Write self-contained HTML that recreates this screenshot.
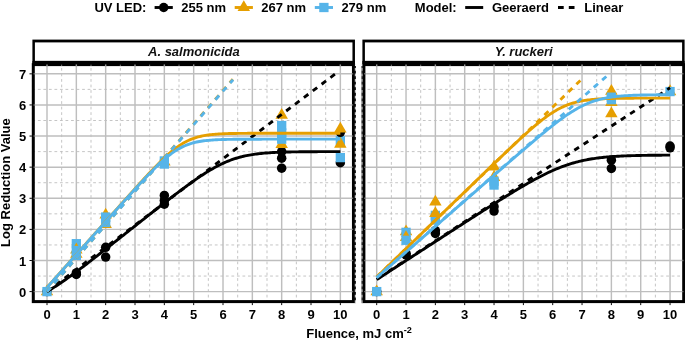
<!DOCTYPE html>
<html><head><meta charset="utf-8"><title>Log Reduction Value vs Fluence</title>
<style>html,body{margin:0;padding:0;background:#fff;}svg{display:block;will-change:transform;opacity:0.999;}</style></head>
<body>
<svg width="685" height="340" viewBox="0 0 685 340" font-family="Liberation Sans, Arial, Helvetica, sans-serif" font-weight="bold">
<rect width="685" height="340" fill="#fff"/>
<rect x="32.40" y="39.6" width="322.55" height="23.80" fill="#000"/>
<rect x="34.90" y="42.4" width="317.55" height="18.55" fill="#fff"/>
<text x="193.9" y="56.4" font-size="13" font-style="italic" text-anchor="middle" fill="#111">A. salmonicida</text>
<clipPath id="c0"><rect x="31.73" y="63.4" width="323.88" height="239.70"/></clipPath>
<g clip-path="url(#c0)">
<line x1="32.33" x2="32.33" y1="303.00" y2="63.4" stroke="#BEBEBE" stroke-width="0.9" stroke-dasharray="2.765 2.765"/>
<line x1="61.67" x2="61.67" y1="303.00" y2="63.4" stroke="#BEBEBE" stroke-width="0.9" stroke-dasharray="2.765 2.765"/>
<line x1="91.00" x2="91.00" y1="303.00" y2="63.4" stroke="#BEBEBE" stroke-width="0.9" stroke-dasharray="2.765 2.765"/>
<line x1="120.34" x2="120.34" y1="303.00" y2="63.4" stroke="#BEBEBE" stroke-width="0.9" stroke-dasharray="2.765 2.765"/>
<line x1="149.67" x2="149.67" y1="303.00" y2="63.4" stroke="#BEBEBE" stroke-width="0.9" stroke-dasharray="2.765 2.765"/>
<line x1="179.01" x2="179.01" y1="303.00" y2="63.4" stroke="#BEBEBE" stroke-width="0.9" stroke-dasharray="2.765 2.765"/>
<line x1="208.34" x2="208.34" y1="303.00" y2="63.4" stroke="#BEBEBE" stroke-width="0.9" stroke-dasharray="2.765 2.765"/>
<line x1="237.68" x2="237.68" y1="303.00" y2="63.4" stroke="#BEBEBE" stroke-width="0.9" stroke-dasharray="2.765 2.765"/>
<line x1="267.01" x2="267.01" y1="303.00" y2="63.4" stroke="#BEBEBE" stroke-width="0.9" stroke-dasharray="2.765 2.765"/>
<line x1="296.35" x2="296.35" y1="303.00" y2="63.4" stroke="#BEBEBE" stroke-width="0.9" stroke-dasharray="2.765 2.765"/>
<line x1="325.68" x2="325.68" y1="303.00" y2="63.4" stroke="#BEBEBE" stroke-width="0.9" stroke-dasharray="2.765 2.765"/>
<line x1="355.02" x2="355.02" y1="303.00" y2="63.4" stroke="#BEBEBE" stroke-width="0.9" stroke-dasharray="2.765 2.765"/>
<line y1="276.05" y2="276.05" x1="32.33" x2="355.62" stroke="#BEBEBE" stroke-width="0.9" stroke-dasharray="2.765 2.765"/>
<line y1="244.94" y2="244.94" x1="32.33" x2="355.62" stroke="#BEBEBE" stroke-width="0.9" stroke-dasharray="2.765 2.765"/>
<line y1="213.83" y2="213.83" x1="32.33" x2="355.62" stroke="#BEBEBE" stroke-width="0.9" stroke-dasharray="2.765 2.765"/>
<line y1="182.72" y2="182.72" x1="32.33" x2="355.62" stroke="#BEBEBE" stroke-width="0.9" stroke-dasharray="2.765 2.765"/>
<line y1="151.61" y2="151.61" x1="32.33" x2="355.62" stroke="#BEBEBE" stroke-width="0.9" stroke-dasharray="2.765 2.765"/>
<line y1="120.50" y2="120.50" x1="32.33" x2="355.62" stroke="#BEBEBE" stroke-width="0.9" stroke-dasharray="2.765 2.765"/>
<line y1="89.39" y2="89.39" x1="32.33" x2="355.62" stroke="#BEBEBE" stroke-width="0.9" stroke-dasharray="2.765 2.765"/>
<line x1="47.00" x2="47.00" y1="63.4" y2="303.1" stroke="#BEBEBE" stroke-width="1.45"/>
<line x1="76.34" x2="76.34" y1="63.4" y2="303.1" stroke="#BEBEBE" stroke-width="1.45"/>
<line x1="105.67" x2="105.67" y1="63.4" y2="303.1" stroke="#BEBEBE" stroke-width="1.45"/>
<line x1="135.00" x2="135.00" y1="63.4" y2="303.1" stroke="#BEBEBE" stroke-width="1.45"/>
<line x1="164.34" x2="164.34" y1="63.4" y2="303.1" stroke="#BEBEBE" stroke-width="1.45"/>
<line x1="193.68" x2="193.68" y1="63.4" y2="303.1" stroke="#BEBEBE" stroke-width="1.45"/>
<line x1="223.01" x2="223.01" y1="63.4" y2="303.1" stroke="#BEBEBE" stroke-width="1.45"/>
<line x1="252.34" x2="252.34" y1="63.4" y2="303.1" stroke="#BEBEBE" stroke-width="1.45"/>
<line x1="281.68" x2="281.68" y1="63.4" y2="303.1" stroke="#BEBEBE" stroke-width="1.45"/>
<line x1="311.01" x2="311.01" y1="63.4" y2="303.1" stroke="#BEBEBE" stroke-width="1.45"/>
<line x1="340.35" x2="340.35" y1="63.4" y2="303.1" stroke="#BEBEBE" stroke-width="1.45"/>
<line y1="291.60" y2="291.60" x1="31.73" x2="355.62" stroke="#BEBEBE" stroke-width="1.45"/>
<line y1="260.49" y2="260.49" x1="31.73" x2="355.62" stroke="#BEBEBE" stroke-width="1.45"/>
<line y1="229.38" y2="229.38" x1="31.73" x2="355.62" stroke="#BEBEBE" stroke-width="1.45"/>
<line y1="198.27" y2="198.27" x1="31.73" x2="355.62" stroke="#BEBEBE" stroke-width="1.45"/>
<line y1="167.16" y2="167.16" x1="31.73" x2="355.62" stroke="#BEBEBE" stroke-width="1.45"/>
<line y1="136.05" y2="136.05" x1="31.73" x2="355.62" stroke="#BEBEBE" stroke-width="1.45"/>
<line y1="104.94" y2="104.94" x1="31.73" x2="355.62" stroke="#BEBEBE" stroke-width="1.45"/>
<line y1="73.83" y2="73.83" x1="31.73" x2="355.62" stroke="#BEBEBE" stroke-width="1.45"/>
<circle cx="47.00" cy="291.60" r="4.75" fill="#000000"/>
<path d="M47.00 284.40L53.24 295.20L40.76 295.20Z" fill="#E69F00"/>
<rect x="42.35" y="286.95" width="9.3" height="9.3" fill="#56B4E9"/>
<circle cx="76.34" cy="274.49" r="4.75" fill="#000000"/>
<circle cx="76.34" cy="272.93" r="4.75" fill="#000000"/>
<path d="M76.34 247.07L82.57 257.87L70.10 257.87Z" fill="#E69F00"/>
<rect x="71.69" y="239.04" width="9.3" height="9.3" fill="#56B4E9"/>
<path d="M76.34 242.59L82.57 253.39L70.10 253.39Z" fill="#E69F00"/>
<rect x="71.69" y="245.88" width="9.3" height="9.3" fill="#56B4E9"/>
<rect x="71.69" y="250.77" width="9.3" height="9.3" fill="#56B4E9"/>
<circle cx="105.67" cy="257.07" r="4.75" fill="#000000"/>
<circle cx="105.67" cy="247.33" r="4.75" fill="#000000"/>
<path d="M105.67 207.65L111.91 218.45L99.43 218.45Z" fill="#E69F00"/>
<path d="M105.67 217.14L111.91 227.94L99.43 227.94Z" fill="#E69F00"/>
<rect x="101.02" y="212.41" width="9.3" height="9.3" fill="#56B4E9"/>
<rect x="101.02" y="217.76" width="9.3" height="9.3" fill="#56B4E9"/>
<circle cx="164.34" cy="204.18" r="4.75" fill="#000000"/>
<circle cx="164.34" cy="200.45" r="4.75" fill="#000000"/>
<circle cx="164.34" cy="195.47" r="4.75" fill="#000000"/>
<path d="M164.34 154.80L170.58 165.60L158.10 165.60Z" fill="#E69F00"/>
<rect x="159.69" y="156.29" width="9.3" height="9.3" fill="#56B4E9"/>
<rect x="159.69" y="159.40" width="9.3" height="9.3" fill="#56B4E9"/>
<circle cx="281.68" cy="168.19" r="4.75" fill="#000000"/>
<circle cx="281.68" cy="158.14" r="4.75" fill="#000000"/>
<circle cx="281.68" cy="151.61" r="4.75" fill="#000000"/>
<path d="M281.68 107.98L287.92 118.78L275.44 118.78Z" fill="#E69F00"/>
<path d="M281.68 137.25L287.92 148.05L275.44 148.05Z" fill="#E69F00"/>
<rect x="277.03" y="134.51" width="9.3" height="9.3" fill="#56B4E9"/>
<rect x="277.03" y="128.29" width="9.3" height="9.3" fill="#56B4E9"/>
<rect x="277.03" y="120.92" width="9.3" height="9.3" fill="#56B4E9"/>
<circle cx="340.35" cy="162.65" r="4.75" fill="#000000"/>
<rect x="335.70" y="152.96" width="9.3" height="9.3" fill="#56B4E9"/>
<rect x="335.70" y="136.07" width="9.3" height="9.3" fill="#56B4E9"/>
<circle cx="340.35" cy="132.32" r="4.75" fill="#000000"/>
<path d="M340.35 121.69L346.59 132.49L334.11 132.49Z" fill="#E69F00"/>
<path d="M340.35 136.85L346.59 147.65L334.11 147.65Z" fill="#E69F00"/>
<path d="M47.00 291.60L48.47 290.75L49.93 289.87L51.40 288.98L52.87 288.07L54.33 287.14L55.80 286.20L57.27 285.24L58.73 284.27L60.20 283.28L61.67 282.28L63.13 281.27L64.60 280.25L66.07 279.22L67.53 278.18L69.00 277.12L70.47 276.06L71.93 274.99L73.40 273.92L74.87 272.84L76.34 271.75L77.80 270.65L79.27 269.55L80.74 268.44L82.20 267.33L83.67 266.22L85.14 265.10L86.60 263.98L88.07 262.85L89.54 261.72L91.00 260.59L92.47 259.45L93.94 258.31L95.40 257.17L96.87 256.03L98.34 254.89L99.80 253.74L101.27 252.60L102.74 251.45L104.20 250.30L105.67 249.15L107.14 247.99L108.60 246.84L110.07 245.69L111.54 244.53L113.00 243.37L114.47 242.22L115.94 241.06L117.40 239.90L118.87 238.74L120.34 237.59L121.80 236.43L123.27 235.27L124.74 234.11L126.20 232.95L127.67 231.79L129.14 230.63L130.60 229.47L132.07 228.31L133.54 227.15L135.00 225.99L136.47 224.83L137.94 223.67L139.41 222.51L140.87 221.36L142.34 220.20L143.81 219.04L145.27 217.88L146.74 216.73L148.21 215.57L149.67 214.42L151.14 213.26L152.61 212.11L154.07 210.96L155.54 209.81L157.01 208.66L158.47 207.51L159.94 206.36L161.41 205.22L162.87 204.07L164.34 202.93L165.81 201.79L167.27 200.66L168.74 199.52L170.21 198.39L171.67 197.26L173.14 196.14L174.61 195.02L176.07 193.90L177.54 192.79L179.01 191.68L180.47 190.57L181.94 189.48L183.41 188.38L184.87 187.30L186.34 186.22L187.81 185.14L189.27 184.08L190.74 183.02L192.21 181.97L193.68 180.94L195.14 179.91L196.61 178.89L198.08 177.88L199.54 176.89L201.01 175.91L202.48 174.94L203.94 173.99L205.41 173.06L206.88 172.14L208.34 171.23L209.81 170.35L211.28 169.48L212.74 168.64L214.21 167.81L215.68 167.01L217.14 166.23L218.61 165.47L220.08 164.73L221.54 164.02L223.01 163.33L224.48 162.66L225.94 162.02L227.41 161.41L228.88 160.82L230.34 160.25L231.81 159.72L233.28 159.20L234.74 158.71L236.21 158.25L237.68 157.81L239.14 157.39L240.61 156.99L242.08 156.62L243.54 156.27L245.01 155.94L246.48 155.63L247.94 155.34L249.41 155.07L250.88 154.81L252.34 154.57L253.81 154.35L255.28 154.14L256.75 153.95L258.21 153.77L259.68 153.60L261.15 153.45L262.61 153.31L264.08 153.17L265.55 153.05L267.01 152.94L268.48 152.83L269.95 152.73L271.41 152.64L272.88 152.56L274.35 152.48L275.81 152.41L277.28 152.35L278.75 152.29L280.21 152.23L281.68 152.18L283.15 152.14L284.61 152.09L286.08 152.05L287.55 152.02L289.01 151.98L290.48 151.95L291.95 151.92L293.41 151.90L294.88 151.87L296.35 151.85L297.81 151.83L299.28 151.81L300.75 151.80L302.21 151.78L303.68 151.77L305.15 151.75L306.61 151.74L308.08 151.73L309.55 151.72L311.01 151.71L312.48 151.70L313.95 151.69L315.42 151.69L316.88 151.68L318.35 151.67L319.82 151.67L321.28 151.66L322.75 151.66L324.22 151.65L325.68 151.65L327.15 151.65L328.62 151.64L330.08 151.64L331.55 151.64L333.02 151.63L334.48 151.63L335.95 151.63L337.42 151.63L338.88 151.63L340.35 151.62" fill="none" stroke="#000000" stroke-width="2.9" stroke-linejoin="round"/>
<line x1="47.00" y1="291.60" x2="335.36" y2="73.86" stroke="#000000" stroke-width="2.9" stroke-dasharray="5.55 5.55" stroke-dashoffset="0.00"/>
<path d="M47.00 287.46L48.47 285.81L49.93 284.16L51.40 282.52L52.87 280.87L54.33 279.22L55.80 277.57L57.27 275.92L58.73 274.27L60.20 272.62L61.67 270.97L63.13 269.33L64.60 267.68L66.07 266.03L67.53 264.38L69.00 262.73L70.47 261.08L71.93 259.43L73.40 257.78L74.87 256.14L76.34 254.49L77.80 252.84L79.27 251.19L80.74 249.54L82.20 247.89L83.67 246.24L85.14 244.60L86.60 242.95L88.07 241.30L89.54 239.65L91.00 238.00L92.47 236.36L93.94 234.71L95.40 233.06L96.87 231.41L98.34 229.76L99.80 228.12L101.27 226.47L102.74 224.82L104.20 223.18L105.67 221.53L107.14 219.88L108.60 218.24L110.07 216.59L111.54 214.95L113.00 213.30L114.47 211.66L115.94 210.01L117.40 208.37L118.87 206.73L120.34 205.09L121.80 203.45L123.27 201.81L124.74 200.17L126.20 198.53L127.67 196.90L129.14 195.27L130.60 193.63L132.07 192.01L133.54 190.38L135.00 188.76L136.47 187.14L137.94 185.52L139.41 183.91L140.87 182.30L142.34 180.70L143.81 179.10L145.27 177.51L146.74 175.93L148.21 174.35L149.67 172.79L151.14 171.23L152.61 169.69L154.07 168.16L155.54 166.64L157.01 165.14L158.47 163.66L159.94 162.19L161.41 160.75L162.87 159.32L164.34 157.93L165.81 156.56L167.27 155.22L168.74 153.91L170.21 152.64L171.67 151.40L173.14 150.20L174.61 149.04L176.07 147.93L177.54 146.86L179.01 145.83L180.47 144.86L181.94 143.93L183.41 143.06L184.87 142.23L186.34 141.46L187.81 140.73L189.27 140.05L190.74 139.43L192.21 138.84L193.68 138.31L195.14 137.81L196.61 137.36L198.08 136.95L199.54 136.57L201.01 136.23L202.48 135.92L203.94 135.64L205.41 135.38L206.88 135.15L208.34 134.95L209.81 134.76L211.28 134.60L212.74 134.45L214.21 134.32L215.68 134.20L217.14 134.09L218.61 134.00L220.08 133.92L221.54 133.84L223.01 133.77L224.48 133.71L225.94 133.66L227.41 133.62L228.88 133.57L230.34 133.54L231.81 133.50L233.28 133.48L234.74 133.45L236.21 133.43L237.68 133.41L239.14 133.39L240.61 133.37L242.08 133.36L243.54 133.35L245.01 133.34L246.48 133.33L247.94 133.32L249.41 133.31L250.88 133.30L252.34 133.30L253.81 133.29L255.28 133.29L256.75 133.28L258.21 133.28L259.68 133.28L261.15 133.27L262.61 133.27L264.08 133.27L265.55 133.27L267.01 133.26L268.48 133.26L269.95 133.26L271.41 133.26L272.88 133.26L274.35 133.26L275.81 133.26L277.28 133.26L278.75 133.26L280.21 133.25L281.68 133.25L283.15 133.25L284.61 133.25L286.08 133.25L287.55 133.25L289.01 133.25L290.48 133.25L291.95 133.25L293.41 133.25L294.88 133.25L296.35 133.25L297.81 133.25L299.28 133.25L300.75 133.25L302.21 133.25L303.68 133.25L305.15 133.25L306.61 133.25L308.08 133.25L309.55 133.25L311.01 133.25L312.48 133.25L313.95 133.25L315.42 133.25L316.88 133.25L318.35 133.25L319.82 133.25L321.28 133.25L322.75 133.25L324.22 133.25L325.68 133.25L327.15 133.25L328.62 133.25L330.08 133.25L331.55 133.25L333.02 133.25L334.48 133.25L335.95 133.25L337.42 133.25L338.88 133.25L340.35 133.25" fill="none" stroke="#E69F00" stroke-width="2.9" stroke-linejoin="round"/>
<line x1="47.00" y1="291.60" x2="232.90" y2="79.28" stroke="#E69F00" stroke-width="2.9" stroke-dasharray="5.55 5.55" stroke-dashoffset="0.00"/>
<path d="M47.00 287.56L48.47 285.91L49.93 284.26L51.40 282.62L52.87 280.97L54.33 279.33L55.80 277.68L57.27 276.04L58.73 274.39L60.20 272.74L61.67 271.10L63.13 269.45L64.60 267.81L66.07 266.16L67.53 264.52L69.00 262.87L70.47 261.23L71.93 259.58L73.40 257.93L74.87 256.29L76.34 254.64L77.80 253.00L79.27 251.35L80.74 249.71L82.20 248.06L83.67 246.42L85.14 244.77L86.60 243.13L88.07 241.48L89.54 239.84L91.00 238.19L92.47 236.55L93.94 234.90L95.40 233.26L96.87 231.62L98.34 229.97L99.80 228.33L101.27 226.68L102.74 225.04L104.20 223.40L105.67 221.76L107.14 220.11L108.60 218.47L110.07 216.83L111.54 215.19L113.00 213.55L114.47 211.91L115.94 210.28L117.40 208.64L118.87 207.00L120.34 205.37L121.80 203.74L123.27 202.11L124.74 200.48L126.20 198.85L127.67 197.23L129.14 195.60L130.60 193.99L132.07 192.37L133.54 190.76L135.00 189.15L136.47 187.55L137.94 185.95L139.41 184.36L140.87 182.78L142.34 181.20L143.81 179.63L145.27 178.07L146.74 176.52L148.21 174.99L149.67 173.47L151.14 171.96L152.61 170.47L154.07 168.99L155.54 167.54L157.01 166.10L158.47 164.69L159.94 163.31L161.41 161.95L162.87 160.63L164.34 159.34L165.81 158.08L167.27 156.86L168.74 155.68L170.21 154.54L171.67 153.44L173.14 152.39L174.61 151.38L176.07 150.43L177.54 149.52L179.01 148.67L180.47 147.86L181.94 147.10L183.41 146.40L184.87 145.74L186.34 145.13L187.81 144.56L189.27 144.04L190.74 143.56L192.21 143.13L193.68 142.73L195.14 142.36L196.61 142.03L198.08 141.73L199.54 141.46L201.01 141.22L202.48 141.00L203.94 140.80L205.41 140.62L206.88 140.46L208.34 140.32L209.81 140.19L211.28 140.08L212.74 139.97L214.21 139.88L215.68 139.80L217.14 139.73L218.61 139.67L220.08 139.61L221.54 139.56L223.01 139.51L224.48 139.47L225.94 139.44L227.41 139.41L228.88 139.38L230.34 139.35L231.81 139.33L233.28 139.31L234.74 139.30L236.21 139.28L237.68 139.27L239.14 139.25L240.61 139.24L242.08 139.23L243.54 139.23L245.01 139.22L246.48 139.21L247.94 139.21L249.41 139.20L250.88 139.20L252.34 139.19L253.81 139.19L255.28 139.19L256.75 139.18L258.21 139.18L259.68 139.18L261.15 139.18L262.61 139.17L264.08 139.17L265.55 139.17L267.01 139.17L268.48 139.17L269.95 139.17L271.41 139.17L272.88 139.17L274.35 139.17L275.81 139.17L277.28 139.16L278.75 139.16L280.21 139.16L281.68 139.16L283.15 139.16L284.61 139.16L286.08 139.16L287.55 139.16L289.01 139.16L290.48 139.16L291.95 139.16L293.41 139.16L294.88 139.16L296.35 139.16L297.81 139.16L299.28 139.16L300.75 139.16L302.21 139.16L303.68 139.16L305.15 139.16L306.61 139.16L308.08 139.16L309.55 139.16L311.01 139.16L312.48 139.16L313.95 139.16L315.42 139.16L316.88 139.16L318.35 139.16L319.82 139.16L321.28 139.16L322.75 139.16L324.22 139.16L325.68 139.16L327.15 139.16L328.62 139.16L330.08 139.16L331.55 139.16L333.02 139.16L334.48 139.16L335.95 139.16L337.42 139.16L338.88 139.16L340.35 139.16" fill="none" stroke="#56B4E9" stroke-width="2.9" stroke-linejoin="round"/>
<line x1="47.00" y1="291.60" x2="233.07" y2="79.67" stroke="#56B4E9" stroke-width="2.9" stroke-dasharray="5.55 5.55" stroke-dashoffset="0.00"/>
</g>
<rect x="33.30" y="64.60" width="320.15" height="237.00" fill="none" stroke="#000" stroke-width="3.0"/>
<rect x="32.40" y="60.9" width="322.55" height="3" fill="#000"/>
<line x1="47.00" x2="47.00" y1="64.4" y2="66.2" stroke="#BEBEBE" stroke-width="1.45" opacity="0.8"/>
<line x1="76.34" x2="76.34" y1="64.4" y2="66.2" stroke="#BEBEBE" stroke-width="1.45" opacity="0.8"/>
<line x1="105.67" x2="105.67" y1="64.4" y2="66.2" stroke="#BEBEBE" stroke-width="1.45" opacity="0.8"/>
<line x1="135.00" x2="135.00" y1="64.4" y2="66.2" stroke="#BEBEBE" stroke-width="1.45" opacity="0.8"/>
<line x1="164.34" x2="164.34" y1="64.4" y2="66.2" stroke="#BEBEBE" stroke-width="1.45" opacity="0.8"/>
<line x1="193.68" x2="193.68" y1="64.4" y2="66.2" stroke="#BEBEBE" stroke-width="1.45" opacity="0.8"/>
<line x1="223.01" x2="223.01" y1="64.4" y2="66.2" stroke="#BEBEBE" stroke-width="1.45" opacity="0.8"/>
<line x1="252.34" x2="252.34" y1="64.4" y2="66.2" stroke="#BEBEBE" stroke-width="1.45" opacity="0.8"/>
<line x1="281.68" x2="281.68" y1="64.4" y2="66.2" stroke="#BEBEBE" stroke-width="1.45" opacity="0.8"/>
<line x1="311.01" x2="311.01" y1="64.4" y2="66.2" stroke="#BEBEBE" stroke-width="1.45" opacity="0.8"/>
<line x1="340.35" x2="340.35" y1="64.4" y2="66.2" stroke="#BEBEBE" stroke-width="1.45" opacity="0.8"/>
<line x1="61.67" x2="61.67" y1="64.6" y2="66.2" stroke="#BEBEBE" stroke-width="0.9" opacity="0.7"/>
<line x1="91.00" x2="91.00" y1="64.6" y2="66.2" stroke="#BEBEBE" stroke-width="0.9" opacity="0.7"/>
<line x1="120.34" x2="120.34" y1="64.6" y2="66.2" stroke="#BEBEBE" stroke-width="0.9" opacity="0.7"/>
<line x1="149.67" x2="149.67" y1="64.6" y2="66.2" stroke="#BEBEBE" stroke-width="0.9" opacity="0.7"/>
<line x1="179.01" x2="179.01" y1="64.6" y2="66.2" stroke="#BEBEBE" stroke-width="0.9" opacity="0.7"/>
<line x1="208.34" x2="208.34" y1="64.6" y2="66.2" stroke="#BEBEBE" stroke-width="0.9" opacity="0.7"/>
<line x1="237.68" x2="237.68" y1="64.6" y2="66.2" stroke="#BEBEBE" stroke-width="0.9" opacity="0.7"/>
<line x1="267.01" x2="267.01" y1="64.6" y2="66.2" stroke="#BEBEBE" stroke-width="0.9" opacity="0.7"/>
<line x1="296.35" x2="296.35" y1="64.6" y2="66.2" stroke="#BEBEBE" stroke-width="0.9" opacity="0.7"/>
<line x1="325.68" x2="325.68" y1="64.6" y2="66.2" stroke="#BEBEBE" stroke-width="0.9" opacity="0.7"/>
<line y1="291.60" y2="291.60" x1="33.50" x2="34.90" stroke="#BEBEBE" stroke-width="1.45" opacity="0.55"/>
<line y1="291.60" y2="291.60" x1="351.85" x2="353.25" stroke="#BEBEBE" stroke-width="1.45" opacity="0.55"/>
<line y1="260.49" y2="260.49" x1="33.50" x2="34.90" stroke="#BEBEBE" stroke-width="1.45" opacity="0.55"/>
<line y1="260.49" y2="260.49" x1="351.85" x2="353.25" stroke="#BEBEBE" stroke-width="1.45" opacity="0.55"/>
<line y1="229.38" y2="229.38" x1="33.50" x2="34.90" stroke="#BEBEBE" stroke-width="1.45" opacity="0.55"/>
<line y1="229.38" y2="229.38" x1="351.85" x2="353.25" stroke="#BEBEBE" stroke-width="1.45" opacity="0.55"/>
<line y1="198.27" y2="198.27" x1="33.50" x2="34.90" stroke="#BEBEBE" stroke-width="1.45" opacity="0.55"/>
<line y1="198.27" y2="198.27" x1="351.85" x2="353.25" stroke="#BEBEBE" stroke-width="1.45" opacity="0.55"/>
<line y1="167.16" y2="167.16" x1="33.50" x2="34.90" stroke="#BEBEBE" stroke-width="1.45" opacity="0.55"/>
<line y1="167.16" y2="167.16" x1="351.85" x2="353.25" stroke="#BEBEBE" stroke-width="1.45" opacity="0.55"/>
<line y1="136.05" y2="136.05" x1="33.50" x2="34.90" stroke="#BEBEBE" stroke-width="1.45" opacity="0.55"/>
<line y1="136.05" y2="136.05" x1="351.85" x2="353.25" stroke="#BEBEBE" stroke-width="1.45" opacity="0.55"/>
<line y1="104.94" y2="104.94" x1="33.50" x2="34.90" stroke="#BEBEBE" stroke-width="1.45" opacity="0.55"/>
<line y1="104.94" y2="104.94" x1="351.85" x2="353.25" stroke="#BEBEBE" stroke-width="1.45" opacity="0.55"/>
<line y1="73.83" y2="73.83" x1="33.50" x2="34.90" stroke="#BEBEBE" stroke-width="1.45" opacity="0.55"/>
<line y1="73.83" y2="73.83" x1="351.85" x2="353.25" stroke="#BEBEBE" stroke-width="1.45" opacity="0.55"/>
<rect x="354.75" y="66" width="1.1" height="237.10" fill="#000"/>
<line x1="355.37" x2="355.37" y1="303.00" y2="66" stroke="#d9d9d9" stroke-width="1.1" stroke-dasharray="2.765 2.765"/>
<line x1="47.00" x2="47.00" y1="303.10" y2="305.10" stroke="#000" stroke-width="1"/>
<text x="47.00" y="318.7" font-size="13" text-anchor="middle" fill="#000">0</text>
<line x1="76.34" x2="76.34" y1="303.10" y2="305.10" stroke="#000" stroke-width="1"/>
<text x="76.34" y="318.7" font-size="13" text-anchor="middle" fill="#000">1</text>
<line x1="105.67" x2="105.67" y1="303.10" y2="305.10" stroke="#000" stroke-width="1"/>
<text x="105.67" y="318.7" font-size="13" text-anchor="middle" fill="#000">2</text>
<line x1="135.00" x2="135.00" y1="303.10" y2="305.10" stroke="#000" stroke-width="1"/>
<text x="135.00" y="318.7" font-size="13" text-anchor="middle" fill="#000">3</text>
<line x1="164.34" x2="164.34" y1="303.10" y2="305.10" stroke="#000" stroke-width="1"/>
<text x="164.34" y="318.7" font-size="13" text-anchor="middle" fill="#000">4</text>
<line x1="193.68" x2="193.68" y1="303.10" y2="305.10" stroke="#000" stroke-width="1"/>
<text x="193.68" y="318.7" font-size="13" text-anchor="middle" fill="#000">5</text>
<line x1="223.01" x2="223.01" y1="303.10" y2="305.10" stroke="#000" stroke-width="1"/>
<text x="223.01" y="318.7" font-size="13" text-anchor="middle" fill="#000">6</text>
<line x1="252.34" x2="252.34" y1="303.10" y2="305.10" stroke="#000" stroke-width="1"/>
<text x="252.34" y="318.7" font-size="13" text-anchor="middle" fill="#000">7</text>
<line x1="281.68" x2="281.68" y1="303.10" y2="305.10" stroke="#000" stroke-width="1"/>
<text x="281.68" y="318.7" font-size="13" text-anchor="middle" fill="#000">8</text>
<line x1="311.01" x2="311.01" y1="303.10" y2="305.10" stroke="#000" stroke-width="1"/>
<text x="311.01" y="318.7" font-size="13" text-anchor="middle" fill="#000">9</text>
<line x1="340.35" x2="340.35" y1="303.10" y2="305.10" stroke="#000" stroke-width="1"/>
<text x="340.35" y="318.7" font-size="13" text-anchor="middle" fill="#000">10</text>
<rect x="362.40" y="39.6" width="322.20" height="23.80" fill="#000"/>
<rect x="364.90" y="42.4" width="317.20" height="18.55" fill="#fff"/>
<text x="523.7" y="56.4" font-size="13" font-style="italic" text-anchor="middle" fill="#111">Y. ruckeri</text>
<clipPath id="c1"><rect x="361.43" y="63.4" width="323.89" height="239.70"/></clipPath>
<g clip-path="url(#c1)">
<line x1="362.03" x2="362.03" y1="303.00" y2="63.4" stroke="#BEBEBE" stroke-width="0.9" stroke-dasharray="2.765 2.765"/>
<line x1="391.37" x2="391.37" y1="303.00" y2="63.4" stroke="#BEBEBE" stroke-width="0.9" stroke-dasharray="2.765 2.765"/>
<line x1="420.70" x2="420.70" y1="303.00" y2="63.4" stroke="#BEBEBE" stroke-width="0.9" stroke-dasharray="2.765 2.765"/>
<line x1="450.04" x2="450.04" y1="303.00" y2="63.4" stroke="#BEBEBE" stroke-width="0.9" stroke-dasharray="2.765 2.765"/>
<line x1="479.37" x2="479.37" y1="303.00" y2="63.4" stroke="#BEBEBE" stroke-width="0.9" stroke-dasharray="2.765 2.765"/>
<line x1="508.71" x2="508.71" y1="303.00" y2="63.4" stroke="#BEBEBE" stroke-width="0.9" stroke-dasharray="2.765 2.765"/>
<line x1="538.04" x2="538.04" y1="303.00" y2="63.4" stroke="#BEBEBE" stroke-width="0.9" stroke-dasharray="2.765 2.765"/>
<line x1="567.38" x2="567.38" y1="303.00" y2="63.4" stroke="#BEBEBE" stroke-width="0.9" stroke-dasharray="2.765 2.765"/>
<line x1="596.71" x2="596.71" y1="303.00" y2="63.4" stroke="#BEBEBE" stroke-width="0.9" stroke-dasharray="2.765 2.765"/>
<line x1="626.05" x2="626.05" y1="303.00" y2="63.4" stroke="#BEBEBE" stroke-width="0.9" stroke-dasharray="2.765 2.765"/>
<line x1="655.38" x2="655.38" y1="303.00" y2="63.4" stroke="#BEBEBE" stroke-width="0.9" stroke-dasharray="2.765 2.765"/>
<line x1="684.72" x2="684.72" y1="303.00" y2="63.4" stroke="#BEBEBE" stroke-width="0.9" stroke-dasharray="2.765 2.765"/>
<line y1="276.05" y2="276.05" x1="362.03" x2="685.32" stroke="#BEBEBE" stroke-width="0.9" stroke-dasharray="2.765 2.765"/>
<line y1="244.94" y2="244.94" x1="362.03" x2="685.32" stroke="#BEBEBE" stroke-width="0.9" stroke-dasharray="2.765 2.765"/>
<line y1="213.83" y2="213.83" x1="362.03" x2="685.32" stroke="#BEBEBE" stroke-width="0.9" stroke-dasharray="2.765 2.765"/>
<line y1="182.72" y2="182.72" x1="362.03" x2="685.32" stroke="#BEBEBE" stroke-width="0.9" stroke-dasharray="2.765 2.765"/>
<line y1="151.61" y2="151.61" x1="362.03" x2="685.32" stroke="#BEBEBE" stroke-width="0.9" stroke-dasharray="2.765 2.765"/>
<line y1="120.50" y2="120.50" x1="362.03" x2="685.32" stroke="#BEBEBE" stroke-width="0.9" stroke-dasharray="2.765 2.765"/>
<line y1="89.39" y2="89.39" x1="362.03" x2="685.32" stroke="#BEBEBE" stroke-width="0.9" stroke-dasharray="2.765 2.765"/>
<line x1="376.70" x2="376.70" y1="63.4" y2="303.1" stroke="#BEBEBE" stroke-width="1.45"/>
<line x1="406.03" x2="406.03" y1="63.4" y2="303.1" stroke="#BEBEBE" stroke-width="1.45"/>
<line x1="435.37" x2="435.37" y1="63.4" y2="303.1" stroke="#BEBEBE" stroke-width="1.45"/>
<line x1="464.70" x2="464.70" y1="63.4" y2="303.1" stroke="#BEBEBE" stroke-width="1.45"/>
<line x1="494.04" x2="494.04" y1="63.4" y2="303.1" stroke="#BEBEBE" stroke-width="1.45"/>
<line x1="523.38" x2="523.38" y1="63.4" y2="303.1" stroke="#BEBEBE" stroke-width="1.45"/>
<line x1="552.71" x2="552.71" y1="63.4" y2="303.1" stroke="#BEBEBE" stroke-width="1.45"/>
<line x1="582.04" x2="582.04" y1="63.4" y2="303.1" stroke="#BEBEBE" stroke-width="1.45"/>
<line x1="611.38" x2="611.38" y1="63.4" y2="303.1" stroke="#BEBEBE" stroke-width="1.45"/>
<line x1="640.71" x2="640.71" y1="63.4" y2="303.1" stroke="#BEBEBE" stroke-width="1.45"/>
<line x1="670.05" x2="670.05" y1="63.4" y2="303.1" stroke="#BEBEBE" stroke-width="1.45"/>
<line y1="291.60" y2="291.60" x1="361.43" x2="685.32" stroke="#BEBEBE" stroke-width="1.45"/>
<line y1="260.49" y2="260.49" x1="361.43" x2="685.32" stroke="#BEBEBE" stroke-width="1.45"/>
<line y1="229.38" y2="229.38" x1="361.43" x2="685.32" stroke="#BEBEBE" stroke-width="1.45"/>
<line y1="198.27" y2="198.27" x1="361.43" x2="685.32" stroke="#BEBEBE" stroke-width="1.45"/>
<line y1="167.16" y2="167.16" x1="361.43" x2="685.32" stroke="#BEBEBE" stroke-width="1.45"/>
<line y1="136.05" y2="136.05" x1="361.43" x2="685.32" stroke="#BEBEBE" stroke-width="1.45"/>
<line y1="104.94" y2="104.94" x1="361.43" x2="685.32" stroke="#BEBEBE" stroke-width="1.45"/>
<line y1="73.83" y2="73.83" x1="361.43" x2="685.32" stroke="#BEBEBE" stroke-width="1.45"/>
<circle cx="376.70" cy="291.60" r="4.75" fill="#000000"/>
<path d="M376.70 284.40L382.94 295.20L370.46 295.20Z" fill="#E69F00"/>
<rect x="372.05" y="286.95" width="9.3" height="9.3" fill="#56B4E9"/>
<circle cx="406.03" cy="254.89" r="4.75" fill="#000000"/>
<circle cx="406.03" cy="253.33" r="4.75" fill="#000000"/>
<path d="M406.03 224.48L412.27 235.28L399.80 235.28Z" fill="#E69F00"/>
<rect x="401.38" y="227.69" width="9.3" height="9.3" fill="#56B4E9"/>
<path d="M406.03 230.27L412.27 241.07L399.80 241.07Z" fill="#E69F00"/>
<rect x="401.38" y="235.62" width="9.3" height="9.3" fill="#56B4E9"/>
<circle cx="435.37" cy="233.42" r="4.75" fill="#000000"/>
<circle cx="435.37" cy="230.62" r="4.75" fill="#000000"/>
<rect x="430.72" y="210.73" width="9.3" height="9.3" fill="#56B4E9"/>
<rect x="430.72" y="215.40" width="9.3" height="9.3" fill="#56B4E9"/>
<path d="M435.37 206.25L441.61 217.05L429.13 217.05Z" fill="#E69F00"/>
<path d="M435.37 194.80L441.61 205.60L429.13 205.60Z" fill="#E69F00"/>
<circle cx="494.04" cy="211.03" r="4.75" fill="#000000"/>
<circle cx="494.04" cy="206.67" r="4.75" fill="#000000"/>
<path d="M494.04 159.71L500.28 170.51L487.80 170.51Z" fill="#E69F00"/>
<path d="M494.04 170.10L500.28 180.90L487.80 180.90Z" fill="#E69F00"/>
<rect x="489.39" y="176.51" width="9.3" height="9.3" fill="#56B4E9"/>
<rect x="489.39" y="180.40" width="9.3" height="9.3" fill="#56B4E9"/>
<circle cx="611.38" cy="168.40" r="4.75" fill="#000000"/>
<circle cx="611.38" cy="160.16" r="4.75" fill="#000000"/>
<path d="M611.38 106.45L617.62 117.25L605.14 117.25Z" fill="#E69F00"/>
<path d="M611.38 95.25L617.62 106.05L605.14 106.05Z" fill="#E69F00"/>
<path d="M611.38 84.05L617.62 94.85L605.14 94.85Z" fill="#E69F00"/>
<rect x="606.73" y="95.00" width="9.3" height="9.3" fill="#56B4E9"/>
<rect x="606.73" y="92.51" width="9.3" height="9.3" fill="#56B4E9"/>
<circle cx="670.05" cy="147.87" r="4.75" fill="#000000"/>
<circle cx="670.05" cy="146.01" r="4.75" fill="#000000"/>
<path d="M670.05 84.36L676.29 95.16L663.81 95.16Z" fill="#E69F00"/>
<rect x="665.40" y="86.91" width="9.3" height="9.3" fill="#56B4E9"/>
<path d="M376.70 279.62L378.17 278.67L379.63 277.72L381.10 276.77L382.57 275.82L384.03 274.86L385.50 273.91L386.97 272.96L388.43 272.01L389.90 271.06L391.37 270.10L392.83 269.15L394.30 268.20L395.77 267.25L397.23 266.30L398.70 265.35L400.17 264.39L401.63 263.44L403.10 262.49L404.57 261.54L406.03 260.59L407.50 259.64L408.97 258.68L410.44 257.73L411.90 256.78L413.37 255.83L414.84 254.88L416.30 253.93L417.77 252.98L419.24 252.02L420.70 251.07L422.17 250.12L423.64 249.17L425.10 248.22L426.57 247.27L428.04 246.32L429.50 245.37L430.97 244.42L432.44 243.47L433.90 242.52L435.37 241.57L436.84 240.61L438.30 239.66L439.77 238.71L441.24 237.76L442.70 236.81L444.17 235.86L445.64 234.92L447.10 233.97L448.57 233.02L450.04 232.07L451.50 231.12L452.97 230.17L454.44 229.22L455.90 228.28L457.37 227.33L458.84 226.38L460.30 225.43L461.77 224.49L463.24 223.54L464.70 222.59L466.17 221.65L467.64 220.70L469.11 219.76L470.57 218.82L472.04 217.87L473.51 216.93L474.97 215.99L476.44 215.05L477.91 214.11L479.37 213.17L480.84 212.23L482.31 211.29L483.77 210.35L485.24 209.42L486.71 208.48L488.17 207.55L489.64 206.62L491.11 205.69L492.57 204.76L494.04 203.83L495.51 202.91L496.97 201.98L498.44 201.06L499.91 200.14L501.37 199.23L502.84 198.31L504.31 197.40L505.77 196.49L507.24 195.59L508.71 194.68L510.17 193.78L511.64 192.89L513.11 191.99L514.57 191.11L516.04 190.22L517.51 189.34L518.97 188.47L520.44 187.60L521.91 186.74L523.38 185.88L524.84 185.03L526.31 184.18L527.78 183.34L529.24 182.51L530.71 181.69L532.18 180.87L533.64 180.06L535.11 179.27L536.58 178.48L538.04 177.70L539.51 176.93L540.98 176.17L542.44 175.42L543.91 174.69L545.38 173.96L546.84 173.25L548.31 172.55L549.78 171.87L551.24 171.20L552.71 170.54L554.18 169.90L555.64 169.27L557.11 168.66L558.58 168.06L560.04 167.48L561.51 166.91L562.98 166.37L564.44 165.83L565.91 165.32L567.38 164.82L568.84 164.34L570.31 163.87L571.78 163.42L573.24 162.99L574.71 162.57L576.18 162.17L577.64 161.79L579.11 161.42L580.58 161.07L582.04 160.74L583.51 160.42L584.98 160.11L586.45 159.82L587.91 159.54L589.38 159.28L590.85 159.03L592.31 158.79L593.78 158.56L595.25 158.35L596.71 158.15L598.18 157.96L599.65 157.78L601.11 157.61L602.58 157.45L604.05 157.30L605.51 157.15L606.98 157.02L608.45 156.89L609.91 156.77L611.38 156.66L612.85 156.56L614.31 156.46L615.78 156.36L617.25 156.28L618.71 156.20L620.18 156.12L621.65 156.05L623.11 155.98L624.58 155.92L626.05 155.86L627.51 155.80L628.98 155.75L630.45 155.70L631.91 155.66L633.38 155.62L634.85 155.58L636.31 155.54L637.78 155.51L639.25 155.47L640.71 155.44L642.18 155.42L643.65 155.39L645.12 155.37L646.58 155.34L648.05 155.32L649.52 155.30L650.98 155.28L652.45 155.27L653.92 155.25L655.38 155.24L656.85 155.22L658.32 155.21L659.78 155.20L661.25 155.18L662.72 155.17L664.18 155.16L665.65 155.15L667.12 155.15L668.58 155.14L670.05 155.13" fill="none" stroke="#000000" stroke-width="2.9" stroke-linejoin="round"/>
<line x1="376.70" y1="279.16" x2="670.05" y2="87.83" stroke="#000000" stroke-width="2.9" stroke-dasharray="5.55 5.55" stroke-dashoffset="8.25"/>
<path d="M376.70 276.98L378.17 275.56L379.63 274.14L381.10 272.72L382.57 271.30L384.03 269.89L385.50 268.47L386.97 267.05L388.43 265.63L389.90 264.21L391.37 262.79L392.83 261.37L394.30 259.95L395.77 258.54L397.23 257.12L398.70 255.70L400.17 254.28L401.63 252.86L403.10 251.44L404.57 250.02L406.03 248.61L407.50 247.19L408.97 245.77L410.44 244.35L411.90 242.93L413.37 241.51L414.84 240.09L416.30 238.68L417.77 237.26L419.24 235.84L420.70 234.42L422.17 233.00L423.64 231.58L425.10 230.16L426.57 228.75L428.04 227.33L429.50 225.91L430.97 224.49L432.44 223.07L433.90 221.65L435.37 220.24L436.84 218.82L438.30 217.40L439.77 215.98L441.24 214.56L442.70 213.14L444.17 211.72L445.64 210.31L447.10 208.89L448.57 207.47L450.04 206.05L451.50 204.63L452.97 203.22L454.44 201.80L455.90 200.38L457.37 198.96L458.84 197.54L460.30 196.13L461.77 194.71L463.24 193.29L464.70 191.87L466.17 190.46L467.64 189.04L469.11 187.62L470.57 186.21L472.04 184.79L473.51 183.37L474.97 181.96L476.44 180.54L477.91 179.13L479.37 177.71L480.84 176.30L482.31 174.88L483.77 173.47L485.24 172.06L486.71 170.65L488.17 169.23L489.64 167.82L491.11 166.41L492.57 165.00L494.04 163.60L495.51 162.19L496.97 160.78L498.44 159.38L499.91 157.98L501.37 156.58L502.84 155.18L504.31 153.78L505.77 152.39L507.24 150.99L508.71 149.60L510.17 148.22L511.64 146.84L513.11 145.46L514.57 144.09L516.04 142.72L517.51 141.35L518.97 139.99L520.44 138.64L521.91 137.30L523.38 135.96L524.84 134.63L526.31 133.31L527.78 132.01L529.24 130.71L530.71 129.42L532.18 128.15L533.64 126.89L535.11 125.65L536.58 124.43L538.04 123.22L539.51 122.03L540.98 120.86L542.44 119.72L543.91 118.60L545.38 117.51L546.84 116.44L548.31 115.40L549.78 114.39L551.24 113.41L552.71 112.47L554.18 111.55L555.64 110.68L557.11 109.83L558.58 109.03L560.04 108.26L561.51 107.53L562.98 106.84L564.44 106.18L565.91 105.56L567.38 104.97L568.84 104.43L570.31 103.91L571.78 103.43L573.24 102.99L574.71 102.57L576.18 102.19L577.64 101.83L579.11 101.50L580.58 101.20L582.04 100.92L583.51 100.66L584.98 100.43L586.45 100.21L587.91 100.01L589.38 99.84L590.85 99.67L592.31 99.52L593.78 99.39L595.25 99.26L596.71 99.15L598.18 99.05L599.65 98.96L601.11 98.87L602.58 98.80L604.05 98.73L605.51 98.67L606.98 98.61L608.45 98.56L609.91 98.52L611.38 98.47L612.85 98.44L614.31 98.40L615.78 98.37L617.25 98.35L618.71 98.32L620.18 98.30L621.65 98.28L623.11 98.26L624.58 98.24L626.05 98.23L627.51 98.22L628.98 98.20L630.45 98.19L631.91 98.18L633.38 98.18L634.85 98.17L636.31 98.16L637.78 98.15L639.25 98.15L640.71 98.14L642.18 98.14L643.65 98.13L645.12 98.13L646.58 98.13L648.05 98.12L649.52 98.12L650.98 98.12L652.45 98.12L653.92 98.11L655.38 98.11L656.85 98.11L658.32 98.11L659.78 98.11L661.25 98.11L662.72 98.11L664.18 98.10L665.65 98.10L667.12 98.10L668.58 98.10L670.05 98.10" fill="none" stroke="#E69F00" stroke-width="2.9" stroke-linejoin="round"/>
<line x1="376.70" y1="276.98" x2="580.87" y2="79.94" stroke="#E69F00" stroke-width="2.9" stroke-dasharray="5.55 5.55" stroke-dashoffset="0.00"/>
<path d="M376.70 277.60L378.17 276.32L379.63 275.04L381.10 273.76L382.57 272.48L384.03 271.20L385.50 269.92L386.97 268.64L388.43 267.36L389.90 266.08L391.37 264.80L392.83 263.52L394.30 262.24L395.77 260.96L397.23 259.68L398.70 258.40L400.17 257.12L401.63 255.84L403.10 254.56L404.57 253.28L406.03 252.00L407.50 250.72L408.97 249.44L410.44 248.16L411.90 246.88L413.37 245.60L414.84 244.32L416.30 243.04L417.77 241.76L419.24 240.48L420.70 239.20L422.17 237.92L423.64 236.64L425.10 235.36L426.57 234.07L428.04 232.79L429.50 231.51L430.97 230.23L432.44 228.95L433.90 227.67L435.37 226.39L436.84 225.11L438.30 223.83L439.77 222.55L441.24 221.27L442.70 219.99L444.17 218.71L445.64 217.43L447.10 216.15L448.57 214.87L450.04 213.59L451.50 212.31L452.97 211.03L454.44 209.75L455.90 208.47L457.37 207.19L458.84 205.91L460.30 204.63L461.77 203.35L463.24 202.07L464.70 200.80L466.17 199.52L467.64 198.24L469.11 196.96L470.57 195.68L472.04 194.40L473.51 193.12L474.97 191.84L476.44 190.56L477.91 189.28L479.37 188.00L480.84 186.72L482.31 185.44L483.77 184.17L485.24 182.89L486.71 181.61L488.17 180.33L489.64 179.05L491.11 177.78L492.57 176.50L494.04 175.22L495.51 173.94L496.97 172.67L498.44 171.39L499.91 170.12L501.37 168.84L502.84 167.57L504.31 166.29L505.77 165.02L507.24 163.75L508.71 162.47L510.17 161.20L511.64 159.93L513.11 158.66L514.57 157.39L516.04 156.13L517.51 154.86L518.97 153.60L520.44 152.33L521.91 151.07L523.38 149.81L524.84 148.56L526.31 147.30L527.78 146.05L529.24 144.80L530.71 143.55L532.18 142.31L533.64 141.06L535.11 139.83L536.58 138.60L538.04 137.37L539.51 136.14L540.98 134.93L542.44 133.71L543.91 132.51L545.38 131.31L546.84 130.12L548.31 128.93L549.78 127.76L551.24 126.60L552.71 125.44L554.18 124.30L555.64 123.17L557.11 122.05L558.58 120.94L560.04 119.86L561.51 118.78L562.98 117.73L564.44 116.69L565.91 115.67L567.38 114.67L568.84 113.69L570.31 112.73L571.78 111.80L573.24 110.90L574.71 110.01L576.18 109.16L577.64 108.33L579.11 107.53L580.58 106.76L582.04 106.02L583.51 105.30L584.98 104.62L586.45 103.97L587.91 103.35L589.38 102.76L590.85 102.20L592.31 101.66L593.78 101.16L595.25 100.69L596.71 100.24L598.18 99.82L599.65 99.43L601.11 99.06L602.58 98.72L604.05 98.40L605.51 98.10L606.98 97.83L608.45 97.57L609.91 97.33L611.38 97.11L612.85 96.91L614.31 96.72L615.78 96.55L617.25 96.39L618.71 96.24L620.18 96.11L621.65 95.98L623.11 95.87L624.58 95.77L626.05 95.67L627.51 95.58L628.98 95.50L630.45 95.43L631.91 95.36L633.38 95.30L634.85 95.25L636.31 95.20L637.78 95.15L639.25 95.11L640.71 95.07L642.18 95.03L643.65 95.00L645.12 94.97L646.58 94.95L648.05 94.92L649.52 94.90L650.98 94.88L652.45 94.86L653.92 94.84L655.38 94.83L656.85 94.81L658.32 94.80L659.78 94.79L661.25 94.78L662.72 94.77L664.18 94.76L665.65 94.75L667.12 94.75L668.58 94.74L670.05 94.73" fill="none" stroke="#56B4E9" stroke-width="2.9" stroke-linejoin="round"/>
<line x1="376.70" y1="277.60" x2="606.69" y2="76.14" stroke="#56B4E9" stroke-width="2.9" stroke-dasharray="5.55 5.55" stroke-dashoffset="0.00"/>
</g>
<rect x="363.90" y="64.60" width="319.80" height="237.00" fill="none" stroke="#000" stroke-width="3.0"/>
<rect x="362.40" y="60.9" width="322.20" height="3" fill="#000"/>
<line x1="376.70" x2="376.70" y1="64.4" y2="66.2" stroke="#BEBEBE" stroke-width="1.45" opacity="0.8"/>
<line x1="406.03" x2="406.03" y1="64.4" y2="66.2" stroke="#BEBEBE" stroke-width="1.45" opacity="0.8"/>
<line x1="435.37" x2="435.37" y1="64.4" y2="66.2" stroke="#BEBEBE" stroke-width="1.45" opacity="0.8"/>
<line x1="464.70" x2="464.70" y1="64.4" y2="66.2" stroke="#BEBEBE" stroke-width="1.45" opacity="0.8"/>
<line x1="494.04" x2="494.04" y1="64.4" y2="66.2" stroke="#BEBEBE" stroke-width="1.45" opacity="0.8"/>
<line x1="523.38" x2="523.38" y1="64.4" y2="66.2" stroke="#BEBEBE" stroke-width="1.45" opacity="0.8"/>
<line x1="552.71" x2="552.71" y1="64.4" y2="66.2" stroke="#BEBEBE" stroke-width="1.45" opacity="0.8"/>
<line x1="582.04" x2="582.04" y1="64.4" y2="66.2" stroke="#BEBEBE" stroke-width="1.45" opacity="0.8"/>
<line x1="611.38" x2="611.38" y1="64.4" y2="66.2" stroke="#BEBEBE" stroke-width="1.45" opacity="0.8"/>
<line x1="640.71" x2="640.71" y1="64.4" y2="66.2" stroke="#BEBEBE" stroke-width="1.45" opacity="0.8"/>
<line x1="670.05" x2="670.05" y1="64.4" y2="66.2" stroke="#BEBEBE" stroke-width="1.45" opacity="0.8"/>
<line x1="391.37" x2="391.37" y1="64.6" y2="66.2" stroke="#BEBEBE" stroke-width="0.9" opacity="0.7"/>
<line x1="420.70" x2="420.70" y1="64.6" y2="66.2" stroke="#BEBEBE" stroke-width="0.9" opacity="0.7"/>
<line x1="450.04" x2="450.04" y1="64.6" y2="66.2" stroke="#BEBEBE" stroke-width="0.9" opacity="0.7"/>
<line x1="479.37" x2="479.37" y1="64.6" y2="66.2" stroke="#BEBEBE" stroke-width="0.9" opacity="0.7"/>
<line x1="508.71" x2="508.71" y1="64.6" y2="66.2" stroke="#BEBEBE" stroke-width="0.9" opacity="0.7"/>
<line x1="538.04" x2="538.04" y1="64.6" y2="66.2" stroke="#BEBEBE" stroke-width="0.9" opacity="0.7"/>
<line x1="567.38" x2="567.38" y1="64.6" y2="66.2" stroke="#BEBEBE" stroke-width="0.9" opacity="0.7"/>
<line x1="596.71" x2="596.71" y1="64.6" y2="66.2" stroke="#BEBEBE" stroke-width="0.9" opacity="0.7"/>
<line x1="626.05" x2="626.05" y1="64.6" y2="66.2" stroke="#BEBEBE" stroke-width="0.9" opacity="0.7"/>
<line x1="655.38" x2="655.38" y1="64.6" y2="66.2" stroke="#BEBEBE" stroke-width="0.9" opacity="0.7"/>
<line y1="291.60" y2="291.60" x1="364.10" x2="365.50" stroke="#BEBEBE" stroke-width="1.45" opacity="0.55"/>
<line y1="291.60" y2="291.60" x1="682.10" x2="683.50" stroke="#BEBEBE" stroke-width="1.45" opacity="0.55"/>
<line y1="260.49" y2="260.49" x1="364.10" x2="365.50" stroke="#BEBEBE" stroke-width="1.45" opacity="0.55"/>
<line y1="260.49" y2="260.49" x1="682.10" x2="683.50" stroke="#BEBEBE" stroke-width="1.45" opacity="0.55"/>
<line y1="229.38" y2="229.38" x1="364.10" x2="365.50" stroke="#BEBEBE" stroke-width="1.45" opacity="0.55"/>
<line y1="229.38" y2="229.38" x1="682.10" x2="683.50" stroke="#BEBEBE" stroke-width="1.45" opacity="0.55"/>
<line y1="198.27" y2="198.27" x1="364.10" x2="365.50" stroke="#BEBEBE" stroke-width="1.45" opacity="0.55"/>
<line y1="198.27" y2="198.27" x1="682.10" x2="683.50" stroke="#BEBEBE" stroke-width="1.45" opacity="0.55"/>
<line y1="167.16" y2="167.16" x1="364.10" x2="365.50" stroke="#BEBEBE" stroke-width="1.45" opacity="0.55"/>
<line y1="167.16" y2="167.16" x1="682.10" x2="683.50" stroke="#BEBEBE" stroke-width="1.45" opacity="0.55"/>
<line y1="136.05" y2="136.05" x1="364.10" x2="365.50" stroke="#BEBEBE" stroke-width="1.45" opacity="0.55"/>
<line y1="136.05" y2="136.05" x1="682.10" x2="683.50" stroke="#BEBEBE" stroke-width="1.45" opacity="0.55"/>
<line y1="104.94" y2="104.94" x1="364.10" x2="365.50" stroke="#BEBEBE" stroke-width="1.45" opacity="0.55"/>
<line y1="104.94" y2="104.94" x1="682.10" x2="683.50" stroke="#BEBEBE" stroke-width="1.45" opacity="0.55"/>
<line y1="73.83" y2="73.83" x1="364.10" x2="365.50" stroke="#BEBEBE" stroke-width="1.45" opacity="0.55"/>
<line y1="73.83" y2="73.83" x1="682.10" x2="683.50" stroke="#BEBEBE" stroke-width="1.45" opacity="0.55"/>
<rect x="361.50" y="66" width="1.1" height="237.10" fill="#000"/>
<line x1="361.93" x2="361.93" y1="303.00" y2="66" stroke="#d9d9d9" stroke-width="1.1" stroke-dasharray="2.765 2.765"/>
<line x1="376.70" x2="376.70" y1="303.10" y2="305.10" stroke="#000" stroke-width="1"/>
<text x="376.70" y="318.7" font-size="13" text-anchor="middle" fill="#000">0</text>
<line x1="406.03" x2="406.03" y1="303.10" y2="305.10" stroke="#000" stroke-width="1"/>
<text x="406.03" y="318.7" font-size="13" text-anchor="middle" fill="#000">1</text>
<line x1="435.37" x2="435.37" y1="303.10" y2="305.10" stroke="#000" stroke-width="1"/>
<text x="435.37" y="318.7" font-size="13" text-anchor="middle" fill="#000">2</text>
<line x1="464.70" x2="464.70" y1="303.10" y2="305.10" stroke="#000" stroke-width="1"/>
<text x="464.70" y="318.7" font-size="13" text-anchor="middle" fill="#000">3</text>
<line x1="494.04" x2="494.04" y1="303.10" y2="305.10" stroke="#000" stroke-width="1"/>
<text x="494.04" y="318.7" font-size="13" text-anchor="middle" fill="#000">4</text>
<line x1="523.38" x2="523.38" y1="303.10" y2="305.10" stroke="#000" stroke-width="1"/>
<text x="523.38" y="318.7" font-size="13" text-anchor="middle" fill="#000">5</text>
<line x1="552.71" x2="552.71" y1="303.10" y2="305.10" stroke="#000" stroke-width="1"/>
<text x="552.71" y="318.7" font-size="13" text-anchor="middle" fill="#000">6</text>
<line x1="582.04" x2="582.04" y1="303.10" y2="305.10" stroke="#000" stroke-width="1"/>
<text x="582.04" y="318.7" font-size="13" text-anchor="middle" fill="#000">7</text>
<line x1="611.38" x2="611.38" y1="303.10" y2="305.10" stroke="#000" stroke-width="1"/>
<text x="611.38" y="318.7" font-size="13" text-anchor="middle" fill="#000">8</text>
<line x1="640.71" x2="640.71" y1="303.10" y2="305.10" stroke="#000" stroke-width="1"/>
<text x="640.71" y="318.7" font-size="13" text-anchor="middle" fill="#000">9</text>
<line x1="670.05" x2="670.05" y1="303.10" y2="305.10" stroke="#000" stroke-width="1"/>
<text x="670.05" y="318.7" font-size="13" text-anchor="middle" fill="#000">10</text>
<line x1="29.5" x2="31.9" y1="291.60" y2="291.60" stroke="#000" stroke-width="1"/>
<text x="26.3" y="296.70" font-size="13" text-anchor="end" fill="#000">0</text>
<line x1="29.5" x2="31.9" y1="260.49" y2="260.49" stroke="#000" stroke-width="1"/>
<text x="26.3" y="265.59" font-size="13" text-anchor="end" fill="#000">1</text>
<line x1="29.5" x2="31.9" y1="229.38" y2="229.38" stroke="#000" stroke-width="1"/>
<text x="26.3" y="234.48" font-size="13" text-anchor="end" fill="#000">2</text>
<line x1="29.5" x2="31.9" y1="198.27" y2="198.27" stroke="#000" stroke-width="1"/>
<text x="26.3" y="203.37" font-size="13" text-anchor="end" fill="#000">3</text>
<line x1="29.5" x2="31.9" y1="167.16" y2="167.16" stroke="#000" stroke-width="1"/>
<text x="26.3" y="172.26" font-size="13" text-anchor="end" fill="#000">4</text>
<line x1="29.5" x2="31.9" y1="136.05" y2="136.05" stroke="#000" stroke-width="1"/>
<text x="26.3" y="141.15" font-size="13" text-anchor="end" fill="#000">5</text>
<line x1="29.5" x2="31.9" y1="104.94" y2="104.94" stroke="#000" stroke-width="1"/>
<text x="26.3" y="110.04" font-size="13" text-anchor="end" fill="#000">6</text>
<line x1="29.5" x2="31.9" y1="73.83" y2="73.83" stroke="#000" stroke-width="1"/>
<text x="26.3" y="78.93" font-size="13" text-anchor="end" fill="#000">7</text>
<text transform="translate(9.8,182.6) rotate(-90)" font-size="13" text-anchor="middle" fill="#000">Log Reduction Value</text>
<text x="306.2" y="338.1" font-size="13" fill="#000">Fluence, mJ cm<tspan dy="-5.2" font-size="9.1">-2</tspan></text>
<text x="94.4" y="11.9" font-size="13" fill="#000">UV LED:</text>
<line x1="154.6" x2="172.79999999999998" y1="7.5" y2="7.5" stroke="#000000" stroke-width="2.9"/>
<circle cx="163.7" cy="7.5" r="4.75" fill="#000000"/>
<text x="181.2" y="11.9" font-size="13" fill="#000">255 nm</text>
<line x1="234.70000000000002" x2="252.9" y1="7.5" y2="7.5" stroke="#E69F00" stroke-width="2.9"/>
<path d="M243.80 0.30L250.04 11.10L237.56 11.10Z" fill="#E69F00"/>
<text x="261.3" y="11.9" font-size="13" fill="#000">267 nm</text>
<line x1="314.79999999999995" x2="333.0" y1="7.5" y2="7.5" stroke="#56B4E9" stroke-width="2.9"/>
<rect x="319.25" y="2.85" width="9.3" height="9.3" fill="#56B4E9"/>
<text x="341.4" y="11.9" font-size="13" fill="#000">279 nm</text>
<text x="414.8" y="11.9" font-size="13" fill="#000">Model:</text>
<line x1="465.2" x2="483.2" y1="7.5" y2="7.5" stroke="#000" stroke-width="2.9"/>
<text x="491.9" y="11.9" font-size="13" fill="#000">Geeraerd</text>
<line x1="558" x2="574.6" y1="7.5" y2="7.5" stroke="#000" stroke-width="2.9" stroke-dasharray="5.7 5.1"/>
<text x="584.2" y="11.9" font-size="13" fill="#000">Linear</text>
</svg>
</body></html>
